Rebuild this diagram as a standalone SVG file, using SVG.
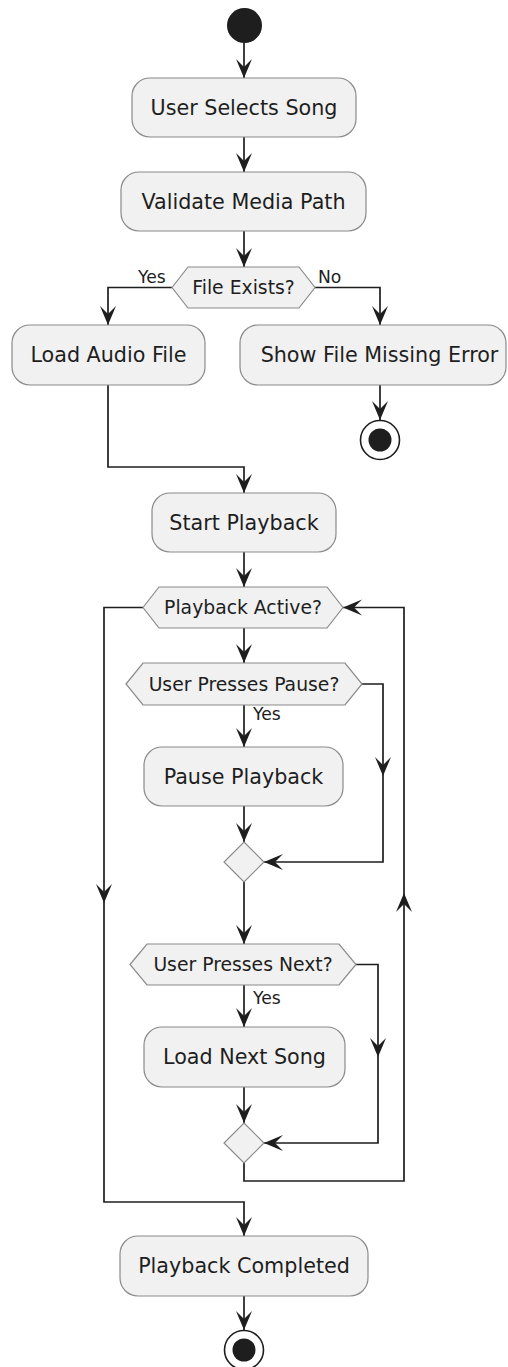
<svg xmlns="http://www.w3.org/2000/svg" xmlns:xlink="http://www.w3.org/1999/xlink" width="508" height="1367" viewBox="0 0 508 1367">
  <style>
    .act { fill: #f1f1f1; stroke: #8a8a8a; stroke-width: 1.2; }
    .lbl { font-family: "DejaVu Sans", "Liberation Sans", sans-serif; font-size: 20.7px; fill: #1e1e1e; text-anchor: middle; }
    .cond { font-family: "DejaVu Sans", "Liberation Sans", sans-serif; font-size: 18.8px; fill: #1e1e1e; text-anchor: middle; }
    .edge-lbl { font-family: "DejaVu Sans", "Liberation Sans", sans-serif; font-size: 17.2px; fill: #1e1e1e; }
    .wire { fill: none; stroke: #1e1e1e; stroke-width: 1.7; }
    .head { fill: #1e1e1e; }
    .dot { fill: #1e1e1e; }
    .ring { fill: none; stroke: #1e1e1e; stroke-width: 1.6; }
  </style>
  <defs>
    <!-- arrowhead pointing down, tip at the origin -->
    <path id="ah" class="head" d="M0,0 L-8,-19 L0,-11 L8,-19 Z"/>
  </defs>

  <rect width="508" height="1367" fill="#ffffff"/>

  <g id="connectors">
    <path class="wire" d="M244,43 V78"/>
    <path class="wire" d="M244,137 V172"/>
    <path class="wire" d="M244,231 V267"/>
    <path class="wire" d="M172,287.5 H108 V325"/>
    <path class="wire" d="M315,287.5 H380 V325"/>
    <path class="wire" d="M380,385 V420"/>
    <path class="wire" d="M108,385 V467 H244 V493"/>
    <path class="wire" d="M244,552 V587"/>
    <path class="wire" d="M244,628 V663"/>
    <path class="wire" d="M244,705 V747"/>
    <path class="wire" d="M362,684 H383 V862 H264"/>
    <path class="wire" d="M244,806 V842"/>
    <path class="wire" d="M244,882 V944"/>
    <path class="wire" d="M244,985 V1027"/>
    <path class="wire" d="M356,964.5 H378 V1143 H264"/>
    <path class="wire" d="M244,1087 V1123"/>
    <path class="wire" d="M244,1163 V1181 H404 V607.5 H343"/>
    <path class="wire" d="M143,607.5 H104 V1202 H244 V1236"/>
    <path class="wire" d="M244,1296 V1330"/>

    <use xlink:href="#ah" transform="translate(244,78)"/>
    <use xlink:href="#ah" transform="translate(244,172)"/>
    <use xlink:href="#ah" transform="translate(244,267)"/>
    <use xlink:href="#ah" transform="translate(108,325)"/>
    <use xlink:href="#ah" transform="translate(380,325)"/>
    <use xlink:href="#ah" transform="translate(380,420)"/>
    <use xlink:href="#ah" transform="translate(244,493)"/>
    <use xlink:href="#ah" transform="translate(244,587)"/>
    <use xlink:href="#ah" transform="translate(244,663)"/>
    <use xlink:href="#ah" transform="translate(244,747)"/>
    <use xlink:href="#ah" transform="translate(383,776)"/>
    <use xlink:href="#ah" transform="translate(264,862) rotate(90)"/>
    <use xlink:href="#ah" transform="translate(244,842)"/>
    <use xlink:href="#ah" transform="translate(244,944)"/>
    <use xlink:href="#ah" transform="translate(244,1027)"/>
    <use xlink:href="#ah" transform="translate(378,1057)"/>
    <use xlink:href="#ah" transform="translate(264,1143) rotate(90)"/>
    <use xlink:href="#ah" transform="translate(244,1123)"/>
    <use xlink:href="#ah" transform="translate(404,893) rotate(180)"/>
    <use xlink:href="#ah" transform="translate(343,607.5) rotate(90)"/>
    <use xlink:href="#ah" transform="translate(104,903)"/>
    <use xlink:href="#ah" transform="translate(244,1236)"/>
    <use xlink:href="#ah" transform="translate(244,1330)"/>

    <text class="edge-lbl" x="138" y="283">Yes</text>
    <text class="edge-lbl" x="318" y="283">No</text>
    <text class="edge-lbl" x="253" y="720">Yes</text>
    <text class="edge-lbl" x="253" y="1004">Yes</text>
  </g>

  <g id="start">
    <circle class="dot" cx="244.5" cy="25.5" r="17.5"/>
  </g>

  <g id="select-song">
    <rect class="act" x="132" y="78" width="224" height="59" rx="18"/>
    <text class="lbl" x="244" y="114.5">User Selects Song</text>
  </g>

  <g id="validate-path">
    <rect class="act" x="121" y="172" width="245" height="59" rx="18"/>
    <text class="lbl" x="243.5" y="208.5">Validate Media Path</text>
  </g>

  <g id="file-exists">
    <polygon class="act" points="172,287.5 188,267 299,267 315,287.5 299,308 188,308"/>
    <text class="cond" x="243.5" y="294">File Exists?</text>
  </g>

  <g id="load-audio">
    <rect class="act" x="12" y="325" width="193" height="60" rx="18"/>
    <text class="lbl" x="108.5" y="362">Load Audio File</text>
  </g>

  <g id="missing-error">
    <rect class="act" x="240" y="325" width="266" height="60" rx="18"/>
    <text class="lbl" x="379.5" y="362">Show File Missing Error</text>
  </g>

  <g id="error-end">
    <circle class="ring" cx="380" cy="440" r="19.5"/>
    <circle class="dot" cx="380" cy="440" r="11.5"/>
  </g>

  <g id="start-playback">
    <rect class="act" x="152" y="493" width="184" height="59" rx="18"/>
    <text class="lbl" x="244" y="529.5">Start Playback</text>
  </g>

  <g id="playback-active">
    <polygon class="act" points="143,607.5 159,587 327,587 343,607.5 327,628 159,628"/>
    <text class="cond" x="243" y="614">Playback Active?</text>
  </g>

  <g id="pause-pressed">
    <polygon class="act" points="126,684 143,663 345,663 362,684 345,705 143,705"/>
    <text class="cond" x="244" y="690.5">User Presses Pause?</text>
  </g>

  <g id="pause-playback">
    <rect class="act" x="144" y="747" width="199" height="59" rx="18"/>
    <text class="lbl" x="243.5" y="783.5">Pause Playback</text>
  </g>

  <g id="pause-merge">
    <polygon class="act" points="244,842 264,862 244,882 224,862"/>
  </g>

  <g id="next-pressed">
    <polygon class="act" points="130,964.5 147,944 339,944 356,964.5 339,985 147,985"/>
    <text class="cond" x="243" y="971">User Presses Next?</text>
  </g>

  <g id="load-next">
    <rect class="act" x="144" y="1027" width="201" height="60" rx="18"/>
    <text class="lbl" x="244.5" y="1064">Load Next Song</text>
  </g>

  <g id="next-merge">
    <polygon class="act" points="244,1123 264,1143 244,1163 224,1143"/>
  </g>

  <g id="playback-completed">
    <rect class="act" x="120" y="1236" width="248" height="60" rx="18"/>
    <text class="lbl" x="244" y="1273">Playback Completed</text>
  </g>

  <g id="end">
    <circle class="ring" cx="244" cy="1350" r="19.5"/>
    <circle class="dot" cx="244" cy="1350" r="11.5"/>
  </g>
</svg>
